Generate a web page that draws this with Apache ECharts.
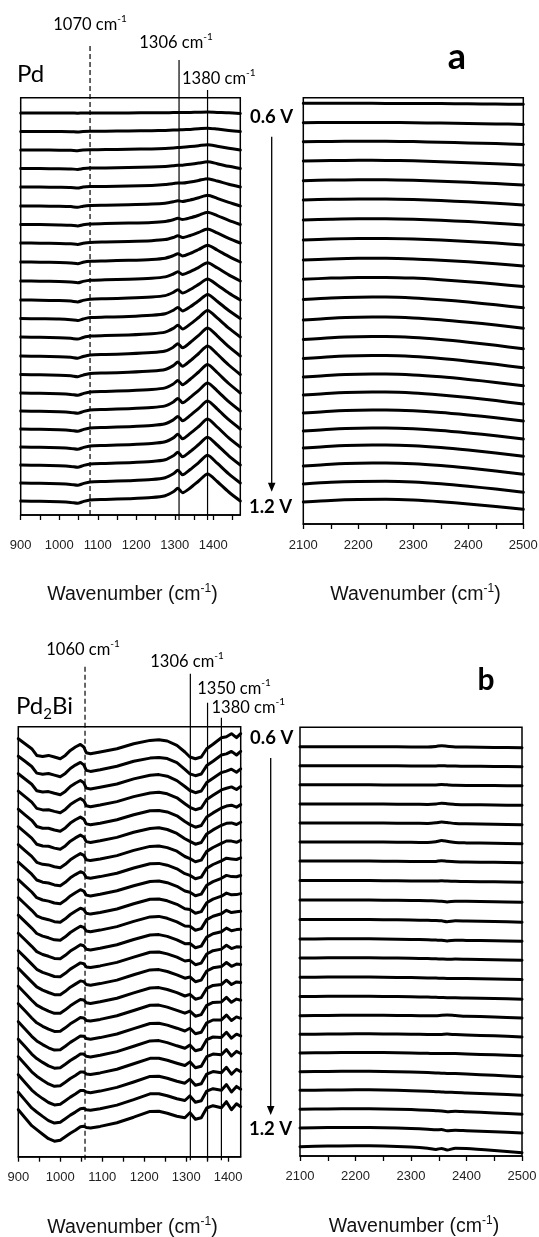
<!DOCTYPE html>
<html><head><meta charset="utf-8">
<script src="https://cdn.jsdelivr.net/npm/echarts@6.0.0/dist/echarts.min.js"></script>
<style>html,body{margin:0;padding:0;background:#fff}#c{width:539px;height:1237px}</style>
</head><body><div id="c"></div>
<script>
// ---------------- DATA ----------------
// Panel a (Pd), low wavenumber region: wavenumbers of sampled points
const xA1 = [900, 950, 1000, 1030, 1048, 1062, 1080, 1120, 1180, 1240, 1275, 1296, 1308, 1320, 1340, 1362, 1385, 1410, 1440, 1470];
// stacking offset of each spectrum (0.6 V first ... 1.2 V last), arbitrary units
const aLeftBase = [402, 383.5, 365, 346.5, 328, 309, 290.5, 272, 253, 234, 215, 196.5, 178, 159, 140.5, 122, 104, 86, 68, 50, 32, 14];
// spectrum values relative to offset
const aLeftSpec = [
 [0, 0, 0, 0, -0.2, 0, 0, 0, 0.1, 0.2, 0.3, 0.4, 0.5, 0.5, 0.6, 0.8, 1, 0.6, 0.2, -0.5],
 [0, 0, -0.1, -0.2, -0.5, 0, 0.2, 0.3, 0.5, 0.8, 1.1, 1.4, 1.6, 1.7, 2.1, 2.7, 3.3, 2.4, 1.1, 0],
 [0, 0, -0.2, -0.3, -0.7, 0, 0.3, 0.4, 0.7, 1.1, 1.6, 2.1, 2.5, 2.7, 3.4, 4.3, 5.3, 3.8, 1.8, 0],
 [0, -0.1, -0.2, -0.4, -0.9, -0.1, 0.4, 0.5, 0.9, 1.4, 2, 2.7, 3.2, 3.3, 4.2, 5.4, 6.7, 4.8, 2.2, 0],
 [0, -0.1, -0.3, -0.5, -1.1, -0.1, 0.4, 0.6, 1, 1.6, 2.4, 3.4, 4.1, 4, 5.1, 6.6, 8.3, 6, 2.8, 0],
 [0, -0.1, -0.3, -0.6, -1.3, -0.2, 0.5, 0.8, 1.2, 1.9, 2.8, 4.2, 5.3, 4.5, 6, 8.2, 10.7, 7.7, 3.6, 0],
 [0, -0.1, -0.4, -0.7, -1.4, -0.2, 0.6, 0.9, 1.4, 2.1, 3.1, 4.8, 6.2, 5, 6.7, 9.3, 12.3, 8.9, 4.1, 0],
 [0, -0.2, -0.4, -0.8, -1.5, -0.3, 0.6, 1, 1.5, 2.3, 3.4, 5.5, 7.2, 5.4, 7.5, 10.6, 14, 10.1, 4.7, 0],
 [0, -0.2, -0.5, -0.9, -1.7, -0.3, 0.7, 1.1, 1.7, 2.6, 3.8, 6.3, 8.3, 6, 8.6, 12.5, 16.7, 12, 5.6, 0],
 [0, -0.2, -0.5, -1, -1.8, -0.4, 0.8, 1.2, 1.8, 2.8, 4.1, 7, 9.2, 6.5, 9.4, 13.7, 18.3, 13.2, 6.1, 0],
 [0, -0.2, -0.6, -1.1, -1.9, -0.4, 0.8, 1.3, 1.9, 3, 4.4, 7.6, 10.2, 7, 10.5, 15.6, 21, 15.1, 7, 0],
 [0, -0.3, -0.6, -1.2, -2, -0.5, 0.9, 1.4, 2, 3.2, 4.7, 8.2, 11, 7.6, 11.8, 17.7, 24, 17.3, 8, 0],
 [0, -0.3, -0.7, -1.3, -2.1, -0.5, 0.9, 1.4, 2.1, 3.3, 4.9, 8.6, 11.8, 8, 12.9, 19.5, 26.5, 19.1, 8.8, 0],
 [0, -0.3, -0.7, -1.3, -2.2, -0.5, 1, 1.5, 2.2, 3.4, 5, 8.8, 12.2, 8.2, 13.5, 20.6, 28, 20.2, 9.3, 0],
 [0, -0.3, -0.7, -1.3, -2.2, -0.6, 1, 1.5, 2.2, 3.4, 5, 8.9, 12.4, 8.2, 13.7, 21, 28.5, 20.5, 9.5, 0],
 [0, -0.3, -0.8, -1.4, -2.3, -0.6, 1, 1.5, 2.3, 3.5, 5.1, 9, 12.5, 8.3, 13.8, 21, 28.5, 20.5, 9.5, 0],
 [0, -0.3, -0.8, -1.4, -2.3, -0.6, 1, 1.5, 2.3, 3.5, 5.1, 9, 12.6, 8.3, 13.6, 20.6, 28, 20.2, 9.3, 0],
 [0, -0.3, -0.8, -1.4, -2.3, -0.6, 1, 1.5, 2.3, 3.5, 5.2, 9.1, 12.6, 8.3, 13.6, 20.6, 28, 20.1, 9.3, 0],
 [0, -0.3, -0.8, -1.4, -2.3, -0.6, 1, 1.5, 2.3, 3.5, 5.2, 9.1, 12.7, 8.3, 13.6, 20.5, 28, 20, 9.2, 0],
 [0, -0.3, -0.8, -1.4, -2.3, -0.6, 1, 1.5, 2.3, 3.5, 5.2, 9.2, 12.7, 8.3, 13.5, 20.5, 27.8, 20, 9.2, 0],
 [0, -0.3, -0.8, -1.4, -2.3, -0.6, 1, 1.5, 2.3, 3.5, 5.3, 9.2, 12.7, 8.3, 13.5, 20.4, 27.7, 19.8, 9.1, 0],
 [0, -0.3, -0.8, -1.4, -2.3, -0.6, 1, 1.5, 2.3, 3.5, 5.3, 9.2, 12.7, 8.3, 13, 20, 27, 19.5, 9, 0]
];

// Panel a (Pd), high wavenumber region
const xA2 = [2100, 2150, 2200, 2250, 2300, 2350, 2400, 2450, 2500];
const aRightBase = [420.7, 401.3, 382.3, 363, 343.3, 324, 304, 284, 264, 244.7, 224.5, 204, 184.5, 165.5, 147, 129, 111, 93, 76, 58, 40, 22];
const aRightSpec = [
 [0, 0, 0, -0.1, -0.2, -0.3, -0.5, -0.7, -1],
 [0, 0.2, 0.3, 0.2, 0, -0.4, -0.8, -1.2, -1.7],
 [0, 0.3, 0.5, 0.4, 0.1, -0.5, -1.2, -1.9, -2.7],
 [0, 0.4, 0.7, 0.6, 0.2, -0.7, -1.7, -2.8, -4],
 [0, 0.6, 0.9, 0.9, 0.4, -0.5, -1.6, -2.9, -4.3],
 [0, 0.7, 1.1, 1.1, 0.6, -0.5, -1.8, -3.3, -5],
 [0, 0.8, 1.3, 1.3, 0.8, -0.3, -1.6, -3.2, -5],
 [0, 1, 1.5, 1.5, 1, -0.1, -1.4, -3.1, -5],
 [0, 1.1, 1.7, 1.7, 1.1, -0.2, -1.8, -3.8, -6],
 [0, 1.2, 1.9, 1.9, 1.2, -0.4, -2.4, -4.7, -7.3],
 [0, 1.5, 2.3, 2.4, 1.6, -0.2, -2.6, -5.3, -8.3],
 [0, 1.8, 2.8, 2.9, 2.1, 0.3, -2.2, -5, -8.3],
 [0, 1.8, 2.8, 2.9, 2, 0, -2.7, -5.8, -9.3],
 [0, 1.8, 2.8, 2.9, 2, 0, -2.7, -5.8, -9.3],
 [0, 1.8, 2.8, 2.9, 2.1, 0.2, -2.4, -5.4, -8.7],
 [0, 1.8, 2.8, 2.9, 2.1, 0.1, -2.5, -5.6, -9],
 [0, 1.8, 2.8, 2.9, 2.2, 0.5, -2, -4.8, -8],
 [0, 1.8, 2.8, 2.9, 2.2, 0.5, -2, -4.8, -8],
 [0, 1.8, 2.8, 2.9, 2.2, 0.4, -2.1, -5, -8.3],
 [0, 1.8, 2.8, 2.9, 2.2, 0.4, -2.1, -5, -8.3],
 [0, 1.7, 2.6, 2.8, 2.1, 0.3, -2.2, -5.1, -8.3],
 [0, 1.6, 2.5, 2.7, 2, 0.3, -2, -4.5, -7.3]
];

// Panel b (Pd2Bi), low wavenumber region
const xB1 = [900, 916, 932, 944, 958, 972, 986, 1000, 1012, 1024, 1036, 1048, 1056, 1062, 1072, 1095, 1135, 1175, 1214, 1235, 1255, 1278, 1297, 1309, 1322, 1336, 1349, 1364, 1384, 1396, 1408, 1420, 1430];
const bLeftBase = [418, 400.5, 383, 365.5, 347.5, 330, 312, 294.5, 277, 259, 241.5, 223.5, 206, 188.5, 170.5, 153, 135, 117.5, 100, 82, 64.5, 47];
const bLeftSpec = [
 [0, -5, -10, -16.7, -17.7, -16.7, -18.3, -20, -16.7, -11.7, -8.3, -5.7, -8.3, -14, -15, -13.3, -10, -5, -1.7, -1, -2.3, -6.7, -13.3, -18.3, -20, -18.3, -10, -5.5, 1, 2, 5, 1, 5],
 [0, -5.1, -10.3, -16.9, -18, -17.3, -18.9, -20.5, -17.2, -12.3, -8.9, -6.2, -8.7, -14.2, -15.2, -13.5, -10.1, -5.1, -1.9, -1.2, -2.4, -6.5, -13.1, -17.6, -19.5, -17.8, -9.4, -5, 1.2, 2.3, 4.8, 1.2, 4.9],
 [0, -5.3, -10.6, -17, -18.3, -17.9, -19.6, -21, -17.7, -12.8, -9.5, -6.8, -9.1, -14.4, -15.3, -13.6, -10.3, -5.2, -1.5, -0.9, -2.5, -6.9, -12.8, -16.8, -19, -17.3, -8.9, -4.6, 1.1, 2.6, 4.5, 1.5, 4.8],
 [0, -5.4, -10.9, -17.2, -18.7, -18.5, -20.2, -21.5, -18.2, -13.4, -10.1, -7.3, -9.5, -14.5, -15.5, -13.8, -10.4, -5.4, -1.8, -1.1, -2.6, -6.6, -12.5, -16.1, -18.5, -16.8, -8.3, -4.1, 1.3, 2.9, 4.3, 1.7, 4.7],
 [0, -5.6, -11.1, -17.3, -19, -19, -20.8, -22, -18.7, -13.9, -10.6, -7.9, -9.9, -14.7, -15.6, -14, -10.6, -5.5, -1.6, -1.2, -2.7, -6.6, -12.3, -15.4, -18, -16.3, -7.8, -3.7, 1.2, 3.1, 4, 2, 4.6],
 [0, -5.7, -11.4, -17.5, -19.3, -19.6, -21.4, -22.5, -19.2, -14.5, -11.2, -8.4, -10.3, -14.9, -15.8, -14.1, -10.7, -5.6, -1.8, -1.1, -2.8, -6.7, -12, -14.7, -17.5, -15.8, -7.2, -3.2, 1.4, 3.4, 3.8, 2.2, 4.5],
 [0, -5.9, -11.7, -17.6, -19.6, -20.2, -22.1, -23, -19.6, -15.1, -11.8, -8.9, -10.6, -15.1, -15.9, -14.3, -10.9, -5.7, -1.7, -1.3, -2.9, -6.5, -11.8, -13.9, -17, -15.4, -6.7, -2.8, 1.3, 3.7, 3.6, 2.4, 4.4],
 [0, -6, -12, -17.8, -20, -20.8, -22.7, -23.5, -20.1, -15.6, -12.4, -9.5, -11, -15.3, -16.1, -14.4, -11, -5.8, -1.6, -1.2, -3, -6.6, -11.5, -13.2, -16.5, -14.9, -6.1, -2.3, 1.4, 4, 3.3, 2.7, 4.3],
 [0, -6.1, -12.3, -18, -20.3, -21.4, -23.3, -24, -20.6, -16.2, -13, -10, -11.4, -15.4, -16.3, -14.6, -11.1, -6, -1.8, -1.3, -3, -6.6, -11.3, -12.5, -16, -14.4, -5.5, -1.9, 1.4, 4.3, 3.1, 2.9, 4.2],
 [0, -6.3, -12.6, -18.1, -20.6, -22, -24, -24.5, -21.1, -16.8, -13.5, -10.5, -11.8, -15.6, -16.4, -14.8, -11.3, -6.1, -1.6, -1.3, -3.1, -6.6, -11, -11.7, -15.5, -13.9, -5, -1.4, 1.5, 4.6, 2.9, 3.1, 4.1],
 [0, -6.4, -12.9, -18.3, -20.9, -22.6, -24.6, -25, -21.6, -17.3, -14.1, -11.1, -12.2, -15.8, -16.6, -14.9, -11.4, -6.2, -1.7, -1.2, -3.1, -6.6, -10.8, -11, -15, -13.4, -4.4, -1, 1.5, 4.9, 2.6, 3.4, 4],
 [0, -6.6, -13.1, -18.4, -21.3, -23.1, -25.2, -25.5, -22.1, -17.9, -14.7, -11.6, -12.6, -16, -16.7, -15.1, -11.6, -6.3, -1.8, -1.4, -3.2, -6.6, -10.5, -10.3, -14.5, -12.9, -3.9, -0.5, 1.5, 5.1, 2.4, 3.6, 3.9],
 [0, -6.7, -13.4, -18.6, -21.6, -23.7, -25.8, -26, -22.6, -18.4, -15.3, -12.2, -13, -16.2, -16.9, -15.2, -11.7, -6.4, -1.6, -1.3, -3.2, -6.5, -10.3, -9.6, -14, -12.4, -3.3, 0, 1.6, 5.4, 2.1, 3.9, 3.8],
 [0, -6.9, -13.7, -18.7, -21.9, -24.3, -26.5, -26.5, -23.1, -19, -15.9, -12.7, -13.4, -16.4, -17.1, -15.4, -11.9, -6.5, -1.7, -1.4, -3.3, -6.6, -10, -8.8, -13.5, -11.9, -2.8, 0.4, 1.6, 5.7, 1.9, 4.1, 3.7],
 [0, -7, -14, -18.9, -22.2, -24.9, -27.1, -27, -23.6, -19.6, -16.4, -13.2, -13.8, -16.5, -17.2, -15.6, -12, -6.7, -1.8, -1.4, -3.3, -6.5, -9.8, -8.1, -13, -11.4, -2.2, 0.8, 1.7, 6, 1.7, 4.3, 3.6],
 [0, -7.1, -14.3, -19.1, -22.6, -25.5, -27.7, -27.5, -24.1, -20.1, -17, -13.8, -14.2, -16.7, -17.4, -15.7, -12.1, -6.8, -1.6, -1.4, -3.4, -6.6, -9.5, -7.4, -12.5, -10.9, -1.6, 1.3, 1.7, 6.3, 1.4, 4.6, 3.5],
 [0, -7.3, -14.6, -19.2, -22.9, -26.1, -28.4, -28, -24.5, -20.7, -17.6, -14.3, -14.5, -16.9, -17.5, -15.9, -12.3, -6.9, -1.8, -1.5, -3.4, -6.5, -9.3, -6.6, -12, -10.5, -1.1, 1.7, 1.8, 6.6, 1.2, 4.8, 3.4],
 [0, -7.4, -14.9, -19.4, -23.2, -26.7, -29, -28.5, -25, -21.3, -18.2, -14.9, -14.9, -17.1, -17.7, -16.1, -12.4, -7, -1.7, -1.4, -3.4, -6.6, -9, -5.9, -11.5, -10, -0.5, 2.2, 1.8, 6.9, 1, 5, 3.3],
 [0, -7.6, -15.1, -19.5, -23.5, -27.2, -29.6, -29, -25.5, -21.8, -18.8, -15.4, -15.3, -17.3, -17.8, -16.2, -12.6, -7.1, -1.6, -1.5, -3.5, -6.5, -8.8, -5.2, -11, -9.5, 0, 2.6, 1.9, 7.1, 0.7, 5.3, 3.2],
 [0, -7.7, -15.4, -19.7, -23.9, -27.8, -30.2, -29.5, -26, -22.4, -19.3, -15.9, -15.7, -17.4, -18, -16.4, -12.7, -7.3, -1.7, -1.5, -3.5, -6.5, -8.5, -4.5, -10.5, -9, 0.6, 3.1, 1.9, 7.4, 0.5, 5.5, 3.1],
 [0, -7.9, -15.7, -19.8, -24.2, -28.4, -30.9, -30, -26.5, -22.9, -19.9, -16.5, -16.1, -17.6, -18.1, -16.5, -12.9, -7.4, -1.6, -1.5, -3.5, -6.5, -8.3, -3.7, -10, -8.5, 1.1, 3.5, 2, 7.7, 0.2, 5.8, 3],
 [0, -8, -16, -20, -24.5, -29, -31.5, -30.5, -27, -23.5, -20.5, -17, -16.5, -17.8, -18.3, -16.7, -13, -7.5, -1.7, -1.5, -3.5, -6.5, -8, -3, -9.5, -8, 1.7, 4, 2, 8, 0, 6, 3]
];

// Panel b (Pd2Bi), high wavenumber region
const xB2 = [2100, 2150, 2200, 2250, 2300, 2330, 2345, 2355, 2365, 2380, 2400, 2450, 2500];
const bRightBase = [409.3, 390.3, 371.2, 352, 333, 314, 295, 275.5, 256, 236.5, 217, 198, 178.7, 159.5, 140.3, 121.7, 103, 84.3, 65.7, 46.8, 28, 9.3];
const bRightSpec = [
 [0, 0, 0, 0, -0.2, -0.2, 0.3, 1, 0.5, -0.2, -0.4, -0.7, -1],
 [0, 0, 0, 0, -0.2, -0.3, -0.2, 0, -0.3, -0.4, -0.5, -0.8, -1],
 [0, 0, 0, -0.1, -0.2, -0.3, -0.1, 0.3, 0, -0.4, -0.6, -0.8, -1],
 [0, 0.1, 0, -0.1, -0.3, -0.4, 0, 0.8, 0.3, -0.5, -0.7, -1, -1.3],
 [0, 0.1, 0, -0.1, -0.3, -0.4, 0.2, 1, 0.5, -0.5, -0.8, -1.2, -1.7],
 [0, 0.1, 0, -0.1, -0.3, -0.5, 0.3, 1.5, 0.7, -0.6, -0.9, -1.3, -1.7],
 [0, 0, 0, -0.2, -0.4, -0.6, -0.4, 0.3, -0.2, -0.7, -1, -1.3, -1.7],
 [0, 0, 0, -0.2, -0.4, -0.6, -0.5, -0.3, -0.6, -0.8, -1, -1.3, -1.7],
 [0, 0, 0, -0.2, -0.5, -0.7, -0.9, -1.2, -2, -1.2, -1.3, -1.8, -2.3],
 [0, 0, 0, -0.2, -0.5, -0.8, -1, -1.3, -2.2, -1.3, -1.5, -2, -2.7],
 [0, 0.2, 0.3, 0.1, -0.4, -0.8, -1.1, -1.3, -2, -1.2, -1.4, -1.8, -2.3],
 [0, 0.2, 0.3, 0.1, -0.3, -0.6, -0.8, -1, -1.2, -1.1, -1.3, -1.8, -2.3],
 [0, 0.2, 0.3, 0.1, -0.3, -0.6, -0.8, -0.9, -1.1, -1.1, -1.3, -1.8, -2.3],
 [0, 0.2, 0.3, 0.1, -0.3, -0.6, -0.8, -1, -1.2, -1.2, -1.5, -2, -2.7],
 [0, 0.3, 0.5, 0.4, 0.1, 0, 0, 0.5, 0.8, 0.2, -0.5, -1.3, -2.3],
 [0, 0.3, 0.5, 0.4, 0.1, -0.2, -0.3, -0.2, 0.2, -0.3, -0.7, -1.5, -2.7],
 [0, 0.3, 0.5, 0.4, 0, -0.3, -0.5, -0.5, -0.4, -0.6, -1, -1.8, -2.7],
 [0, 0.3, 0.5, 0.3, -0.3, -0.8, -1.2, -1.5, -1.7, -1.9, -2.4, -3.6, -5],
 [0, 0.3, 0.5, 0.3, -0.4, -0.9, -1.4, -1.7, -2, -2.1, -2.6, -3.7, -5],
 [0, 0.3, 0.5, 0.3, -0.4, -1, -1.5, -1.8, -2.6, -2, -2.6, -3.7, -5],
 [0, 0.4, 0.6, 0.3, -0.5, -1.2, -1.8, -1.6, -2.7, -2.2, -2.7, -3.8, -5],
 [0, 0.6, 1, 0.7, -0.3, -1.5, -2.7, -1.7, -3.3, -1.5, -1.7, -3.7, -6]
];

// axis ranges and tick values
const rangeA1 = [900, 1470], rangeA2 = [2100, 2500], rangeB1 = [900, 1430], rangeB2 = [2100, 2500];
const ticksLow = [900, 950, 1000, 1050, 1100, 1150, 1200, 1250, 1300, 1350, 1400, 1450];
const labelsLow = [900, 1000, 1100, 1200, 1300, 1400];
const ticksHigh = [2100, 2150, 2200, 2250, 2300, 2350, 2400, 2450, 2500];
const labelsHigh = [2100, 2200, 2300, 2400, 2500];
// marked band positions (as drawn) and their labels
const bandsA = [1080, 1311, 1385];
const bandLabelsA = ['1070', '1306', '1380'];
const bandsB = [1059, 1310, 1351, 1384];
const bandLabelsB = ['1060', '1306', '1350', '1380'];
const potentials = ['0.6 V', '1.2 V'];

// ---------------- CHART ----------------
const chart = echarts.init(document.getElementById('c'), null, {renderer: 'canvas'});

const grids = [
  {left: 20.7, top: 97.7, width: 219.6, height: 417.3},
  {left: 303.3, top: 97.7, width: 220, height: 426.3},
  {left: 18.3, top: 726.7, width: 222.4, height: 430},
  {left: 300, top: 727.3, width: 222, height: 428.7}
];
const ranges = [rangeA1, rangeA2, rangeB1, rangeB2];
const tickSets = [ticksLow, ticksHigh, ticksLow.filter(v => v <= 1430), ticksHigh];
const labelSets = [labelsLow, labelsHigh, labelsLow, labelsHigh];
const labelMargins = [24, 15, 14, 14];

const TICKFONT = 'Liberation Sans, Arial, sans-serif';
const ANNFONT = 'Lato, Open Sans, sans-serif';

const xAxes = grids.map((g, i) => ({
  type: 'value', gridIndex: i, min: ranges[i][0], max: ranges[i][1], interval: 50,
  axisLine: {show: true, onZero: false, lineStyle: {color: '#000', width: 1.5}},
  axisTick: {show: true, inside: false, length: 5, customValues: tickSets[i], lineStyle: {color: '#000', width: 1.3}},
  axisLabel: {show: true, margin: labelMargins[i], customValues: labelSets[i], color: '#222',
    fontFamily: TICKFONT, fontSize: 13,
    formatter: v => (v % 100 === 0 ? String(v) : '')},
  splitLine: {show: false}
}));
const yAxes = grids.map((g, i) => ({
  type: 'value', gridIndex: i, min: 0, max: g.height, show: false, splitLine: {show: false}
}));

function curves(xs, bases, spec, gi) {
  return spec.map((row, i) => ({
    type: 'line', xAxisIndex: gi, yAxisIndex: gi,
    data: xs.map((x, j) => [x, bases[i] + row[j]]),
    showSymbol: false, symbol: 'none', smooth: gi === 2 ? false : 0.25,
    lineStyle: {color: '#000', width: 3, join: 'round', cap: 'round'}, silent: true, z: 3
  }));
}
function refLine(x, y0, y1, gi, dashed) {
  return {
    type: 'line', xAxisIndex: gi, yAxisIndex: gi, clip: false,
    data: [[x, y0], [x, y1]], showSymbol: false, symbol: 'none',
    lineStyle: {color: '#000', width: 1.2, type: dashed ? [5, 3] : 'solid'}, silent: true, z: 2
  };
}

const series = [].concat(
  curves(xA1, aLeftBase, aLeftSpec, 0),
  curves(xA2, aRightBase, aRightSpec, 1),
  curves(xB1, bLeftBase, bLeftSpec, 2),
  curves(xB2, bRightBase, bRightSpec, 3),
  [
    refLine(bandsA[0], 0, 472, 0, true),
    refLine(bandsA[1], -5, 455, 0, false),
    refLine(bandsA[2], -5, 425, 0, false),
    refLine(bandsB[0], -3, 490, 2, true),
    refLine(bandsB[1], -3.5, 483, 2, false),
    refLine(bandsB[2], -3.5, 454, 2, false),
    refLine(bandsB[3], -3.5, 439, 2, false)
  ]
);

// text helpers
function supText(x, y, main, sup, size, family, align) {
  return {
    type: 'text', x: x, y: y, silent: true, z: 10,
    style: {
      text: '{n|' + main + '}{s|' + sup + '}',
      align: align || 'center', verticalAlign: 'middle',
      textAlign: align || 'center', textVerticalAlign: 'middle',
      fill: '#000',
      rich: {
        n: {fontFamily: family, fontSize: size, lineHeight: size * 1.3, fill: '#000'},
        s: {fontFamily: family, fontSize: Math.round(size * 0.62), verticalAlign: 'top', fill: '#000'}
      }
    }
  };
}
function plain(x, y, text, size, weight, family, align) {
  return {
    type: 'text', x: x, y: y, silent: true, z: 10,
    style: {
      text: text, fill: '#000', fontSize: size, fontWeight: weight, fontFamily: family,
      font: weight + ' ' + size + 'px ' + family,
      align: align || 'center', verticalAlign: 'middle',
      textAlign: align || 'center', textVerticalAlign: 'middle'
    }
  };
}
function axisTitle(x, y) {
  return {
    type: 'text', x: x, y: y, silent: true, z: 10,
    style: {
      text: '{n|Wavenumber (cm}{s|-1}{n|)}',
      align: 'center', verticalAlign: 'middle', textAlign: 'center', textVerticalAlign: 'middle',
      fill: '#000',
      rich: {
        n: {fontFamily: TICKFONT, fontSize: 19.5, lineHeight: 25, fill: '#111'},
        s: {fontFamily: TICKFONT, fontSize: 12, verticalAlign: 'top', fill: '#111'}
      }
    }
  };
}
function arrow(x, y0, y1) {
  return [
    {type: 'line', silent: true, shape: {x1: x, y1: y0, x2: x, y2: y1 - 7}, style: {stroke: '#000', lineWidth: 1.3}},
    {type: 'polygon', silent: true, shape: {points: [[x - 3.8, y1 - 9], [x + 3.8, y1 - 9], [x, y1]]}, style: {fill: '#000'}}
  ];
}

const graphic = [
  // panel a
  supText(90, 25, bandLabelsA[0] + ' cm', '-1', 16.5, ANNFONT, 'center'),
  supText(176, 43, bandLabelsA[1] + ' cm', '-1', 16.5, ANNFONT, 'center'),
  supText(182, 79, bandLabelsA[2] + ' cm', '-1', 16.5, ANNFONT, 'left'),
  plain(17, 74, 'Pd', 24, 'normal', ANNFONT, 'left'),
  plain(457, 57, 'a', 36, 'bold', ANNFONT, 'center'),
  plain(271.5, 116.7, potentials[0], 18.5, 'bold', ANNFONT, 'center'),
  plain(270.5, 506.7, potentials[1], 18.5, 'bold', ANNFONT, 'center'),
  ...arrow(271.7, 136.7, 491.7),
  axisTitle(132.5, 595),
  axisTitle(415.5, 595),
  // panel b
  supText(83, 649.3, bandLabelsB[0] + ' cm', '-1', 16.5, ANNFONT, 'center'),
  supText(187, 661.7, bandLabelsB[1] + ' cm', '-1', 16.5, ANNFONT, 'center'),
  supText(234, 688.3, bandLabelsB[2] + ' cm', '-1', 16.5, ANNFONT, 'center'),
  supText(211.5, 707.3, bandLabelsB[3] + ' cm', '-1', 16.5, ANNFONT, 'left'),
  {
    type: 'text', x: 16, y: 706.7, silent: true, z: 10,
    style: {
      text: '{n|Pd}{b|2}{n|Bi}', align: 'left', verticalAlign: 'middle', textAlign: 'left', textVerticalAlign: 'middle',
      fill: '#000',
      rich: {
        n: {fontFamily: ANNFONT, fontSize: 24, lineHeight: 30, fill: '#000'},
        b: {fontFamily: ANNFONT, fontSize: 15, verticalAlign: 'bottom', fill: '#000'}
      }
    }
  },
  plain(486, 680, 'b', 30, 'bold', ANNFONT, 'center'),
  plain(271.7, 738.3, potentials[0], 18.5, 'bold', ANNFONT, 'center'),
  plain(270.5, 1129.3, potentials[1], 18.5, 'bold', ANNFONT, 'center'),
  ...arrow(270.7, 758, 1115),
  axisTitle(132.5, 1228),
  axisTitle(414, 1227)
];

chart.setOption({
  animation: false,
  backgroundColor: '#fff',
  grid: grids.map(g => Object.assign({show: true, borderColor: '#000', borderWidth: 1.5, backgroundColor: 'transparent',
    containLabel: false, outerBoundsMode: 'none'}, g)),
  xAxis: xAxes,
  yAxis: yAxes,
  series: series,
  graphic: graphic
});
</script>
</body></html>
